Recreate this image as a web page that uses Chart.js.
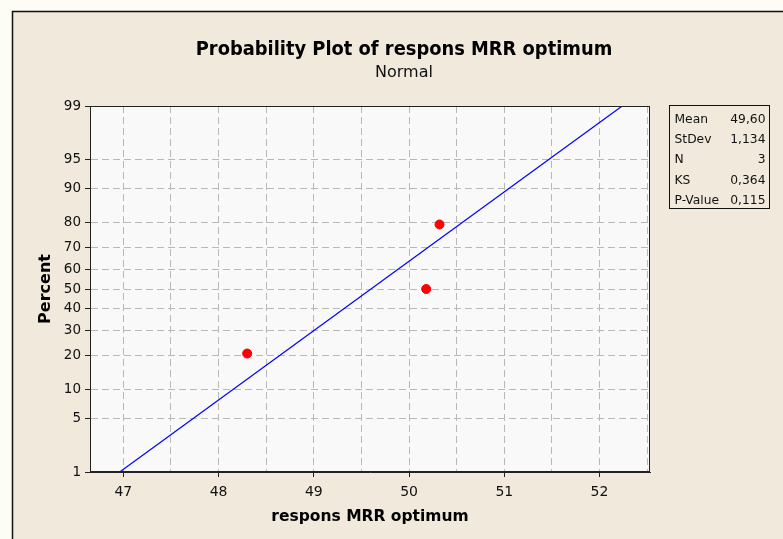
<!DOCTYPE html>
<html>
<head>
<meta charset="utf-8">
<script src="https://cdn.jsdelivr.net/npm/chart.js@4/dist/chart.umd.min.js"></script>
<style>
html,body{margin:0;padding:0;background:#fdfcf5;}
#wrap{width:783px;height:539px;position:relative;}
</style>
</head>
<body>
<div id="wrap"><canvas id="c" width="783" height="539"></canvas></div>
<script>
// ---- data ----
const titleText = "Probability Plot of respons MRR optimum";
const subtitleText = "Normal";
const xAxisTitle = "respons MRR optimum";
const yAxisTitle = "Percent";
const obsX = [48.30, 50.18, 50.32];
const obsPercent = [20.6, 50.0, 79.4];
const fitPercent = [1, 99];
const meanVal = 49.60;
const stdevVal = 1.134;
const yTickPercents = [1, 5, 10, 20, 30, 40, 50, 60, 70, 80, 90, 95, 99];
const yTickLabels = ["1", "5", "10", "20", "30", "40", "50", "60", "70", "80", "90", "95", "99"];
const xGridValues = [47, 47.5, 48, 48.5, 49, 49.5, 50, 50.5, 51, 51.5, 52, 52.5];
const statNames = ["Mean", "StDev", "N", "KS", "P-Value"];
const statValues = ["49,60", "1,134", "3", "0,364", "0,115"];

// inverse normal CDF (probability scale transform)
function probit(p){
  const a=[-3.969683028665376e+01,2.209460984245205e+02,-2.759285104469687e+02,1.383577518672690e+02,-3.066479806614716e+01,2.506628277459239e+00];
  const b=[-5.447609879822406e+01,1.615858368580409e+02,-1.556989798598866e+02,6.680131188771972e+01,-1.328068155833025e+01];
  const c=[-7.784894002430293e-03,-3.223964580411365e-01,-2.400758277161838e+00,-2.549732539343734e+00,4.374664141464968e+00,2.938163982698783e+00];
  const d=[7.784695709041462e-03,3.224671290700398e-01,2.445134137142996e+00,3.754408661907416e+00];
  const pl=0.02425, ph=1-pl; let q,r;
  if(p<pl){q=Math.sqrt(-2*Math.log(p));return (((((c[0]*q+c[1])*q+c[2])*q+c[3])*q+c[4])*q+c[5])/((((d[0]*q+d[1])*q+d[2])*q+d[3])*q+1);}
  if(p<=ph){q=p-0.5;r=q*q;return (((((a[0]*r+a[1])*r+a[2])*r+a[3])*r+a[4])*r+a[5])*q/(((((b[0]*r+b[1])*r+b[2])*r+b[3])*r+b[4])*r+1);}
  q=Math.sqrt(-2*Math.log(1-p));return -(((((c[0]*q+c[1])*q+c[2])*q+c[3])*q+c[4])*q+c[5])/((((d[0]*q+d[1])*q+d[2])*q+d[3])*q+1);
}

const obsData = obsX.map((x,i)=>({x:x, y:probit(obsPercent[i]/100)}));
const fitData = fitPercent.map(p=>{const z=probit(p/100); return {x: meanVal + stdevVal*z, y: z};});
const yMin = probit(yTickPercents[0]/100), yMax = probit(yTickPercents[yTickPercents.length-1]/100);

const FONT = '"DejaVu Sans", Verdana, sans-serif';

const decor = {
  id:'decor',
  beforeDraw(chart){
    const ctx = chart.ctx, a = chart.chartArea;
    ctx.save();
    ctx.fillStyle = '#fdfcf5';
    ctx.fillRect(0,0,chart.width,chart.height);
    ctx.fillStyle = '#f1eadc';
    ctx.fillRect(12.5,11.5,chart.width,chart.height);
    ctx.strokeStyle = '#111';
    ctx.lineWidth = 1.5;
    ctx.beginPath();
    ctx.moveTo(12.5, chart.height+2); ctx.lineTo(12.5, 11.5); ctx.lineTo(chart.width+2, 11.5);
    ctx.stroke();
    ctx.fillStyle = '#f9f9f9';
    ctx.fillRect(a.left, a.top, a.right-a.left, a.bottom-a.top);
    ctx.restore();
  },
  afterDraw(chart){
    const ctx = chart.ctx, a = chart.chartArea;
    ctx.save();
    ctx.strokeStyle = '#222';
    ctx.lineWidth = 1;
    ctx.strokeRect(Math.round(a.left)+0.5, Math.round(a.top)+0.5, Math.round(a.right-a.left)-1, Math.round(a.bottom-a.top)-1);
    // title
    ctx.fillStyle = '#000';
    ctx.textAlign = 'center';
    ctx.textBaseline = 'middle';
    let fs = 18;
    ctx.font = 'bold ' + fs + 'px "DejaVu Sans Condensed", ' + FONT;
    const w = ctx.measureText(titleText).width;
    fs = fs * 417 / w;
    ctx.font = 'bold ' + fs.toFixed(2) + 'px "DejaVu Sans Condensed", ' + FONT;
    ctx.fillText(titleText, 404, 50);
    ctx.font = '16px ' + FONT;
    ctx.fillStyle = '#111';
    ctx.fillText(subtitleText, 404, 73);
    // stats box
    const bx = 669.5, by = 105.5, bw = 100, bh = 103;
    ctx.fillStyle = '#f1eadc';
    ctx.fillRect(bx, by, bw, bh);
    ctx.strokeStyle = '#111';
    ctx.strokeRect(bx, by, bw, bh);
    ctx.font = '12.3px ' + FONT;
    ctx.fillStyle = '#111';
    for (let i=0;i<statNames.length;i++){
      const yy = by + 14 + i*20.3;
      ctx.textAlign = 'left';
      ctx.fillText(statNames[i], bx + 5, yy);
      ctx.textAlign = 'right';
      ctx.fillText(statValues[i], bx + bw - 4, yy);
    }
    ctx.restore();
  }
};

new Chart(document.getElementById('c'), {
  type: 'scatter',
  data: {
    datasets: [
      {
        label: 'Fit',
        type: 'line',
        data: fitData,
        borderColor: '#0000ff',
        borderWidth: 1.2,
        pointRadius: 0,
        fill: false,
        tension: 0,
        order: 2
      },
      {
        label: 'Data',
        data: obsData,
        backgroundColor: '#ff0000',
        borderColor: '#ff0000',
        pointRadius: 4.5,
        pointHoverRadius: 4.5,
        order: 1
      }
    ]
  },
  options: {
    responsive: false,
    animation: false,
    events: [],
    layout: { padding: { left: 0, right: 133, top: 106, bottom: 0 } },
    plugins: { legend: { display: false }, tooltip: { enabled: false }, title: { display: false } },
    scales: {
      x: {
        type: 'linear',
        min: 46.65,
        max: 52.53,
        afterBuildTicks(scale){ scale.ticks = xGridValues.map(v=>({value:v})); },
        afterFit(scale){ scale.height = 67; },
        ticks: {
          autoSkip: false,
          maxRotation: 0,
          padding: 7,
          color: '#111',
          font: { family: FONT, size: 14 },
          callback: (v)=> Number.isInteger(v) ? String(v) : ''
        },
        grid: {
          color: '#b8b8b8',
          tickColor: (ctx)=> (ctx.tick && Number.isInteger(ctx.tick.value)) ? '#222' : 'rgba(0,0,0,0)',
          tickLength: 5,
          lineWidth: 1
        },
        border: { display: true, color: '#222', width: 1, dash: [7,4] },
        title: {
          display: true,
          text: xAxisTitle,
          color: '#000',
          font: { family: FONT, size: 15.5, weight: 'bold' },
          padding: { top: 0, bottom: 13 }
        }
      },
      y: {
        type: 'linear',
        min: yMin,
        max: yMax,
        afterBuildTicks(scale){ scale.ticks = yTickPercents.map(p=>({value: probit(p/100)})); },
        afterFit(scale){ scale.width = 90; },
        ticks: {
          autoSkip: false,
          padding: 4,
          color: '#111',
          font: { family: FONT, size: 13.5 },
          callback: (v, i)=> yTickLabels[i]
        },
        grid: {
          color: '#b8b8b8',
          tickColor: '#222',
          tickLength: 5,
          lineWidth: 1
        },
        border: { display: true, color: '#222', width: 1, dash: [7,4] },
        title: {
          display: true,
          text: yAxisTitle,
          color: '#000',
          font: { family: FONT, size: 16, weight: 'bold' },
          padding: { top: 36, bottom: 0 }
        }
      }
    }
  },
  plugins: [decor]
});
</script>
</body>
</html>
